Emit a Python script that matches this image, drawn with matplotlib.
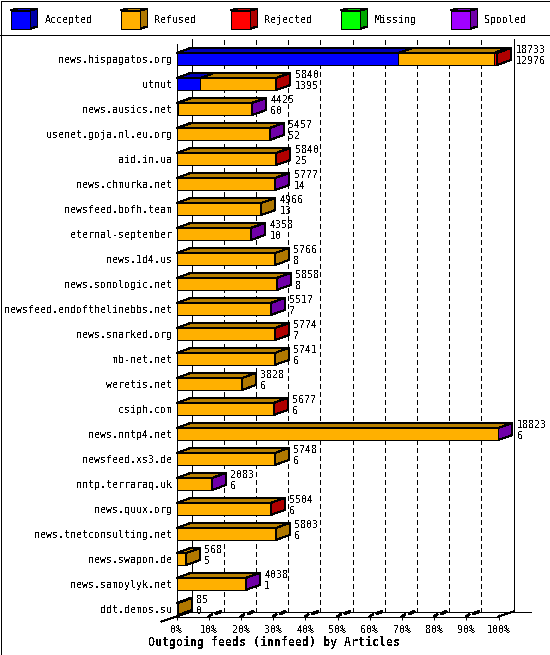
import matplotlib
matplotlib.use('Agg')
import matplotlib.pyplot as plt
from matplotlib.patches import Polygon, Rectangle

plt.rcParams['font.family'] = ['DejaVu Sans Mono']
plt.rcParams['text.antialiased'] = False

# Data
feeds = ['news.hispagatos.org', 'utnut', 'news.ausics.net', 'usenet.goja.nl.eu.org',
         'aid.in.ua', 'news.chmurka.net', 'newsfeed.bofh.team', 'eternal-september',
         'news.1d4.us', 'news.sonologic.net', 'newsfeed.endofthelinebbs.net',
         'news.snarked.org', 'mb-net.net', 'weretis.net', 'csiph.com', 'news.nntp4.net',
         'newsfeed.xs3.de', 'nntp.terraraq.uk', 'news.quux.org', 'news.tnetconsulting.net',
         'news.swapon.de', 'news.samoylyk.net', 'ddt.demos.su']
totals = [18733, 5840, 4425, 5457, 5840, 5777, 4966, 4358, 5766, 5858, 5517, 5774,
          5741, 3828, 5677, 18823, 5748, 2083, 5504, 5803, 568, 4038, 85]
accepted = [12976, 1395, 60, 52, 25, 14, 13, 10, 8, 8, 7, 7, 6, 6, 6, 6, 6, 6, 6, 6, 5, 1, 0]
rejected = [180, 30, 0, 0, 40, 0, 0, 0, 0, 0, 0, 25, 0, 0, 30, 0, 0, 0, 25, 0, 0, 0, 0]
missing = [0] * 23
spooled = [0, 0, 30, 25, 0, 30, 0, 25, 0, 25, 30, 0, 0, 0, 0, 30, 0, 25, 0, 0, 0, 25, 0]
refused = [t - a - r - m - s for t, a, r, m, s in zip(totals, accepted, rejected, missing, spooled)]

series_names = ['Accepted', 'Refused', 'Rejected', 'Missing', 'Spooled']
series_values = [accepted, refused, rejected, missing, spooled]
front_colors = ['#0000ff', '#ffb000', '#ff0000', '#00ff00', '#a000ff']
top_colors = ['#0000b8', '#b88000', '#b80000', '#00b800', '#7400b8']
side_colors = ['#0000a8', '#b07800', '#b00000', '#00a800', '#7000a8']
x_ticks = list(range(0, 101, 10))

W, H = 550, 655
fig = plt.figure(figsize=(W / 100, H / 100), dpi=100)

# pixel overlay for the frame and the legend
over = fig.add_axes([0, 0, 1, 1], zorder=0)
over.set_xlim(0, W)
over.set_ylim(H, 0)
over.axis('off')
over.add_patch(Rectangle((0.5, 0.5), W - 1, H - 1, fc='white', ec='black', lw=0.72, aa=False))
over.plot([0, W], [35, 35], color='black', lw=0.72, aa=False)


def poly(axis, pts, color, z=3):
    axis.add_patch(Polygon(pts, closed=True, fc=color, ec='black', lw=0.72, aa=False,
                           zorder=z, clip_on=False))


for i, name in enumerate(series_names):
    x = 10.5 + i * 110
    poly(over, [(x, 10.5), (x + 20, 10.5), (x + 20, 28.5), (x, 28.5)], front_colors[i])
    poly(over, [(x, 10.5), (x + 7, 8.5), (x + 27, 8.5), (x + 20, 10.5)], top_colors[i])
    poly(over, [(x + 20, 10.5), (x + 27, 8.5), (x + 27, 26.5), (x + 20, 28.5)], side_colors[i])
    over.text(x + 34, 20, name, fontsize=7.2, va='center', ha='left')

over.text(274, 642, 'Outgoing feeds (innfeed) by Articles', fontsize=8.4, fontweight='bold',
          ha='center', va='center')

# main axes: front plane of the 3D chart
left, right, top, bottom = 176.5, 498.5, 44.5, 616.5
row0, row_h = 59, 25
ax = fig.add_axes([left / W, 1 - bottom / H, (right - left) / W, (bottom - top) / H], zorder=1)
ax.patch.set_visible(False)
ax.set_xlim(0, 100)
ax.set_ylim((bottom - row0) / row_h, (top - row0) / row_h)
ymax, ymin = ax.get_ylim()
px_x = 100 / (right - left)
px_y = 1 / row_h
dx, dy = 15 * px_x, 5 * px_y
bar_h = 12 * px_y

for s in ['top', 'right', 'bottom']:
    ax.spines[s].set_visible(False)
ax.spines['left'].set_linewidth(0.72)
ax.set_yticks(range(len(feeds)))
ax.set_yticklabels(feeds, fontsize=7.2)
ax.tick_params(axis='y', length=0, pad=3)
ax.set_xticks(x_ticks)
ax.set_xticklabels([f'{t}%' for t in x_ticks], fontsize=7.2)
ax.tick_params(axis='x', length=5, width=0.72, pad=3.5, direction='inout')

# back wall, floor and grid
for t in x_ticks:
    ls = '-' if t in (0, 100) else (0, (5, 3))
    ax.plot([t + dx, t + dx], [ymax - dy, ymin - dy], color='black', lw=0.72, ls=ls,
            aa=False, clip_on=False, zorder=1)
ax.plot([dx, dx + 100 + 5.5], [ymax - dy, ymax - dy], color='black', lw=0.72, aa=False,
        clip_on=False, zorder=1)
ax.plot([0, 100], [ymax, ymax], color='black', lw=0.72, aa=False, clip_on=False, zorder=1)
ax.plot([-dx, dx], [ymax + dy, ymax - dy], color='black', lw=0.72, aa=False, clip_on=False, zorder=1)
ax.plot([100, 100 + dx], [ymax, ymax - dy], color='black', lw=0.72, aa=False, clip_on=False, zorder=1)
for t in x_ticks[1:-1]:
    # short floor marks between the front ticks and the back wall
    ax.plot([t, t + 0.2 * dx], [ymax, ymax - 0.4 * dy], color='black', lw=1.1, aa=False,
            clip_on=False, zorder=1)
    ax.plot([t + 0.5 * dx, t + 0.8 * dx], [ymax - 0.6 * dy, ymax - 0.95 * dy], color='black',
            lw=1.6, aa=False, clip_on=False, zorder=1)

# stacked 3D bars
scale = 100 / max(totals)
for row, total in enumerate(totals):
    y0, y1 = row - bar_h / 2, row + bar_h / 2
    pos = 0
    for k, vals in enumerate(series_values):
        v = vals[row]
        if v == 0:
            continue
        a, b = pos * scale, (pos + v) * scale
        poly(ax, [(a, y0), (a + dx * 0.93, y0 - dy), (b + dx * 0.93, y0 - dy), (b, y0)], top_colors[k])
        ax.add_patch(Rectangle((a, y0), b - a, y1 - y0, fc=front_colors[k], ec='black', lw=0.72,
                               aa=False, zorder=4, clip_on=False))
        pos += v
        last = k
    end = pos * scale
    poly(ax, [(end, y0), (end + dx * 0.93, y0 - dy), (end + dx * 0.93, y1 - dy), (end, y1)],
         side_colors[last], z=5)
    ax.text(end + 18.5 * px_x, row - 9 * px_y, str(total), fontsize=7.2, va='center', ha='left', zorder=6)
    ax.text(end + 18.5 * px_x, row + 2 * px_y, str(accepted[row]), fontsize=7.2, va='center', ha='left', zorder=6)

fig.savefig('out.png', dpi=100)
